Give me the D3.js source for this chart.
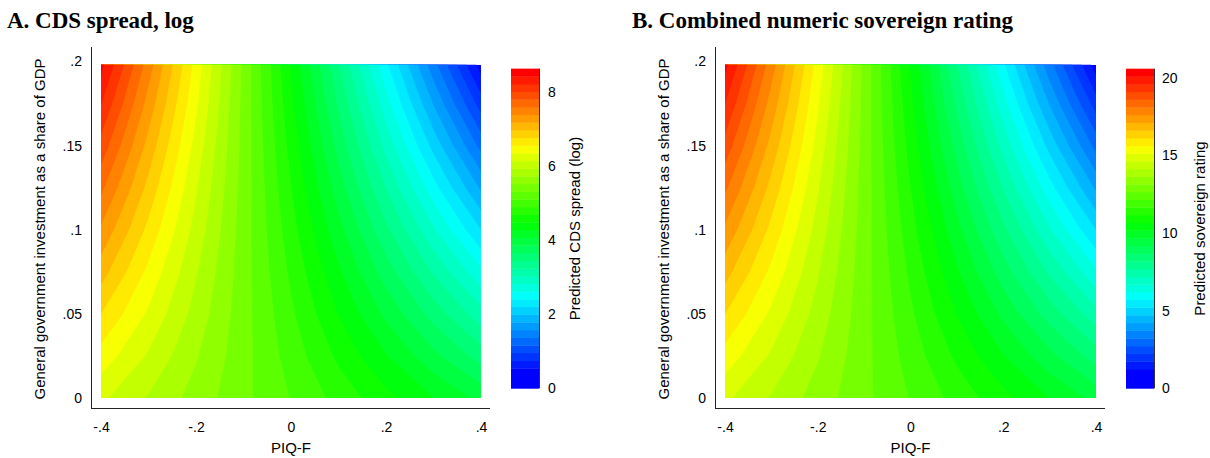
<!DOCTYPE html>
<html><head><meta charset="utf-8">
<script src="https://cdn.jsdelivr.net/npm/d3@7"></script>
<style>
body{margin:0;background:#fff}
svg text{font-family:"Liberation Sans",Arial,sans-serif;fill:#000}
</style>
</head><body>
<svg id="chart" width="1210" height="458"></svg>
<script>
// ---- data ----
const piqF   = [-0.4,-0.3,-0.2,-0.1,0,0.1,0.2,0.3,0.4];
const govInv = [0,0.025,0.05,0.075,0.1,0.125,0.15,0.175,0.2];
// predicted log CDS spread, rows = govInv (bottom to top), cols = piqF
const cdsPred = [
  6.19,5.92,5.65,5.37,5.10,4.83,4.55,4.28,4.01,
  6.48,6.12,5.75,5.39,5.02,4.65,4.29,3.92,3.56,
  6.77,6.32,5.86,5.40,4.94,4.48,4.02,3.57,3.11,
  7.07,6.51,5.96,5.41,4.86,4.31,3.76,3.21,2.66,
  7.36,6.71,6.07,5.42,4.78,4.14,3.49,2.85,2.20,
  7.65,6.91,6.17,5.44,4.70,3.96,3.23,2.49,1.75,
  7.94,7.11,6.28,5.45,4.62,3.79,2.96,2.13,1.30,
  8.23,7.31,6.39,5.46,4.54,3.62,2.70,1.77,0.85,
  8.52,7.51,6.49,5.48,4.46,3.45,2.43,1.42,0.40
];
// predicted sovereign rating
const ratingPred = [
  14.73,14.08,13.42,12.77,12.12,11.47,10.82,10.16,9.51,
  15.42,14.55,13.68,12.80,11.93,11.06,10.18,9.31,8.44,
  16.12,15.02,13.93,12.83,11.74,10.64,9.55,8.45,7.36,
  16.81,15.50,14.18,12.86,11.55,10.23,8.91,7.60,6.28,
  17.51,15.97,14.43,12.89,11.36,9.82,8.28,6.74,5.20,
  18.20,16.44,14.68,12.92,11.16,9.41,7.65,5.89,4.13,
  18.90,16.92,14.94,12.95,10.97,8.99,7.01,5.03,3.05,
  19.59,17.39,15.19,12.98,10.78,8.58,6.38,4.17,1.97,
  20.29,17.86,15.44,13.01,10.59,8.17,5.74,3.32,0.89
];
const govInvMax = 0.198;
const xTicks = [-0.4,-0.2,0,0.2,0.4];
const xTickLabels = ["-.4","-.2","0",".2",".4"];
const yTicks = [0,0.05,0.1,0.15,0.2];
const yTickLabels = ["0",".05",".1",".15",".2"];
const cdsBarTicks = [0,2,4,6,8];
const ratingBarTicks = [0,5,10,15,20];
const cdsCutRange = [0.54, 8.64];
const ratingCutRange = [1.24, 20.58];
const nBands = 40;

// ---- drawing ----
const svg = d3.select("#chart");

const panels = [
  {title:"A. CDS spread, log", values:cdsPred, cut:cdsCutRange, barTicks:cdsBarTicks,
   barTitle:"Predicted CDS spread (log)", titleX:7, axisX:91.5, plot:[101,481], axisEnd:490,
   yTitleX:40, bar:[511,539], barLabelX:548, barTitleX:575, id:"a"},
  {title:"B. Combined numeric sovereign rating", values:ratingPred, cut:ratingCutRange, barTicks:ratingBarTicks,
   barTitle:"Predicted sovereign rating", titleX:632, axisX:715.5, plot:[725,1096], axisEnd:1105,
   yTitleX:664, bar:[1126,1154], barLabelX:1162, barTitleX:1200, id:"b"}
];

const hueColor = i => d3.hsl(240*(1 - i/(nBands-1)), 1, 0.5).formatHex();

panels.forEach(p => {
  const g = svg.append("g");
  const x = d3.scaleLinear().domain([-0.4,0.4]).range(p.plot);
  const y = d3.scaleLinear().domain([0,0.2]).range([398,61.5]);

  // cuts
  const [lo, hi] = p.cut;
  const w = (hi - lo)/(nBands-1);
  const cuts = d3.range(nBands-1).map(k => lo + k*w);

  // clip
  const clipId = "clip-"+p.id;
  g.append("clipPath").attr("id",clipId).append("rect")
    .attr("x", x(-0.4)).attr("y", y(govInvMax))
    .attr("width", x(0.4)-x(-0.4)).attr("height", y(0)-y(govInvMax));

  const nx = piqF.length, ny = govInv.length;
  const sx = piqF[1]-piqF[0], sy = govInv[1]-govInv[0];
  const proj = d3.geoTransform({point: function(cx, cy){
    this.stream.point(x(piqF[0] + (cx-0.5)*sx), y(govInv[0] + (cy-0.5)*sy));
  }});
  const path = d3.geoPath(proj);
  const contours = d3.contours().size([nx, ny]).thresholds(cuts)(p.values);

  const fill = g.append("g").attr("clip-path", `url(#${clipId})`);
  fill.append("rect").attr("x", x(-0.4)).attr("y", y(govInvMax))
    .attr("width", x(0.4)-x(-0.4)).attr("height", y(0)-y(govInvMax))
    .attr("fill", hueColor(0));
  fill.selectAll("path.band").data(contours).join("path")
    .attr("class","band")
    .attr("d", path)
    .attr("fill", (d,i) => hueColor(i+1))
    .attr("stroke", (d,i) => hueColor(i+1))
    .attr("stroke-width", 0.3);

  // axis lines
  g.append("line").attr("x1",p.axisX).attr("x2",p.axisX).attr("y1",47).attr("y2",408.5)
    .attr("stroke","#222").attr("stroke-width",1);
  g.append("line").attr("x1",p.axisX-0.5).attr("x2",p.axisEnd).attr("y1",408.5).attr("y2",408.5)
    .attr("stroke","#222").attr("stroke-width",1);

  // y ticks
  const ya = d3.axisLeft(y).tickValues(yTicks).tickSize(0).tickPadding(9.5)
    .tickFormat((d,i) => yTickLabels[i]);
  const yg = g.append("g").attr("transform",`translate(${p.axisX},0)`).call(ya);
  yg.select(".domain").remove();
  yg.selectAll("text").attr("font-size",14).style("font-family",'"Liberation Sans",Arial,sans-serif');

  // x ticks
  const xa = d3.axisBottom(x).tickValues(xTicks).tickSize(0).tickPadding(14)
    .tickFormat((d,i) => xTickLabels[i]);
  const xg = g.append("g").attr("transform",`translate(0,408.5)`).call(xa);
  xg.select(".domain").remove();
  xg.selectAll("text").attr("font-size",14).style("font-family",'"Liberation Sans",Arial,sans-serif');

  // axis titles
  g.append("text").attr("x", (p.plot[0]+p.plot[1])/2).attr("y", 453)
    .attr("text-anchor","middle").attr("font-size",15).text("PIQ-F");
  g.append("text").attr("transform",`translate(${p.yTitleX+5},229) rotate(-90)`)
    .attr("text-anchor","middle").attr("font-size",15)
    .text("General government investment as a share of GDP");

  // title
  g.append("text").attr("x", p.titleX).attr("y", 27.5)
    .style("font-family",'"Liberation Serif","Times New Roman",serif')
    .attr("font-weight","bold").attr("font-size",23).text(p.title);

  // colour bar
  const barTop = p.cut[1];
  const by = d3.scaleLinear().domain([0, p.barTicks[p.barTicks.length-1]])
    .range([388.3, 388.3 - (p.id==="a" ? 296 : 310.6)]);
  const edges = [0, ...cuts, hi];
  const bar = g.append("g");
  bar.selectAll("rect").data(d3.range(nBands)).join("rect")
    .attr("x", p.bar[0]).attr("width", p.bar[1]-p.bar[0])
    .attr("y", i => by(edges[i+1]))
    .attr("height", i => by(edges[i]) - by(edges[i+1]) + 0.4)
    .attr("fill", i => hueColor(i));
  bar.append("line").attr("x1",p.bar[1]+0.5).attr("x2",p.bar[1]+0.5)
    .attr("y1", by(barTop)).attr("y2", by(0)).attr("stroke","#333").attr("stroke-width",1);
  bar.selectAll("text.bt").data(p.barTicks).join("text").attr("class","bt")
    .attr("x", p.barLabelX).attr("y", d => by(d)).attr("dy","0.35em")
    .attr("font-size",14).text(d => d);
  g.append("text").attr("transform",`translate(${p.barTitleX+5},228.5) rotate(-90)`)
    .attr("text-anchor","middle").attr("font-size",15).text(p.barTitle);
});
</script>
</body></html>
